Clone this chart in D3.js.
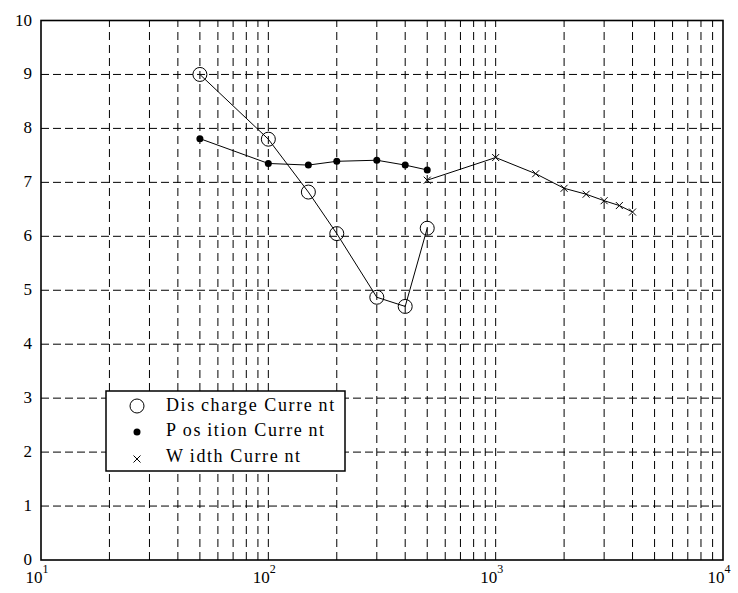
<!DOCTYPE html>
<html>
<head>
<meta charset="utf-8">
<script src="https://cdn.jsdelivr.net/npm/d3@7"></script>
<style>
  html, body { margin: 0; padding: 0; background: #fff; }
  svg { display: block; }
</style>
</head>
<body>
<svg id="chart" width="738" height="593" font-family="'Liberation Serif', 'Times New Roman', Times, serif"></svg>
<script>
// Discharge current series
const dischargeX = [50, 100, 150, 200, 300, 400, 500];
const dischargeY = [9.0, 7.8, 6.82, 6.05, 4.87, 4.7, 6.15];

// Position current series
const positionX = [50, 100, 150, 200, 300, 400, 500];
const positionY = [7.81, 7.35, 7.32, 7.39, 7.41, 7.32, 7.23];

// Width current series
const widthX = [500, 1000, 1500, 2000, 2500, 3000, 3500, 4000];
const widthY = [7.04, 7.46, 7.16, 6.89, 6.78, 6.66, 6.57, 6.45];

// Axis ticks
const xDecades = [1, 2, 3, 4];
const yTicks = [0, 1, 2, 3, 4, 5, 6, 7, 8, 9, 10];
const legendLabels = ["Dis\u2009charge Curre\u2009nt", "P\u2009os\u2009ition Curre\u2009nt", "W\u2009idth Curre\u2009nt"];

const svg = d3.select("#chart");
const plotL = 41, plotR = 723, plotT = 20.5, plotB = 560;

const x = d3.scaleLog().domain([10, 10000]).range([plotL, plotR]);
const y = d3.scaleLinear().domain([0, 10]).range([plotB, plotT]);

// minor + major vertical grid positions
const xGrid = [];
for (let d = 1; d < 4; d++) {
  for (let m = 1; m <= 9; m++) xGrid.push(m * Math.pow(10, d));
}

const grid = svg.append("g");
grid.selectAll("line.vx")
  .data(xGrid.filter(v => v > 10 && v < 10000))
  .join("line")
  .attr("x1", d => x(d)).attr("x2", d => x(d))
  .attr("y1", plotB).attr("y2", plotT)
  .attr("stroke", "#000").attr("stroke-width", 1)
  .attr("stroke-dasharray", "8,5");
grid.selectAll("line.hy")
  .data(yTicks.filter(v => v > 0 && v < 10))
  .join("line")
  .attr("x1", plotL).attr("x2", plotR)
  .attr("y1", d => y(d)).attr("y2", d => y(d))
  .attr("stroke", "#000").attr("stroke-width", 1)
  .attr("stroke-dasharray", "8,4");

// frame
svg.append("rect")
  .attr("x", plotL).attr("y", plotT)
  .attr("width", plotR - plotL).attr("height", plotB - plotT)
  .attr("fill", "none").attr("stroke", "#000").attr("stroke-width", 1.6);

// y tick labels
svg.append("g").selectAll("text")
  .data(yTicks)
  .join("text")
  .attr("x", 32).attr("y", d => y(d) + 5)
  .attr("text-anchor", "end")
  .attr("font-size", 17)
  .text(d => d);

// x tick labels with superscript exponent
const xl = svg.append("g").selectAll("text")
  .data(xDecades)
  .join("text")
  .attr("x", d => x(Math.pow(10, d)) - 4)
  .attr("y", 583)
  .attr("text-anchor", "middle")
  .attr("font-size", 17);
xl.append("tspan").text("10");
xl.append("tspan").attr("dy", -10).attr("font-size", 12).text(d => d);

// series
const line = d3.line().x(d => x(d[0])).y(d => y(d[1]));
const discharge = d3.zip(dischargeX, dischargeY);
const position = d3.zip(positionX, positionY);
const widthS = d3.zip(widthX, widthY);

[discharge, position, widthS].forEach(s => {
  svg.append("path").datum(s).attr("d", line)
    .attr("fill", "none").attr("stroke", "#000").attr("stroke-width", 1);
});

svg.append("g").selectAll("circle")
  .data(discharge).join("circle")
  .attr("cx", d => x(d[0])).attr("cy", d => y(d[1])).attr("r", 7)
  .attr("fill", "none").attr("stroke", "#000").attr("stroke-width", 1);

svg.append("g").selectAll("circle")
  .data(position).join("circle")
  .attr("cx", d => x(d[0])).attr("cy", d => y(d[1])).attr("r", 3.5)
  .attr("fill", "#000");

const cross = (g, cx, cy, s) => {
  g.append("path")
    .attr("d", `M${cx - s},${cy - s}L${cx + s},${cy + s}M${cx - s},${cy + s}L${cx + s},${cy - s}`)
    .attr("stroke", "#000").attr("stroke-width", 1).attr("fill", "none");
};
const wg = svg.append("g");
widthS.forEach(d => cross(wg, x(d[0]), y(d[1]), 3.5));

// legend
const lg = svg.append("g");
lg.append("rect")
  .attr("x", 106).attr("y", 391).attr("width", 239).attr("height", 80)
  .attr("fill", "#fff").attr("stroke", "#000").attr("stroke-width", 1.5);
const ly = [406, 431, 457];
lg.append("circle").attr("cx", 137).attr("cy", ly[0]).attr("r", 7)
  .attr("fill", "none").attr("stroke", "#000");
lg.append("circle").attr("cx", 137).attr("cy", ly[1] + 1).attr("r", 3.5).attr("fill", "#000");
cross(lg, 137, ly[2] + 2, 3.5);
lg.selectAll("text").data(legendLabels).join("text")
  .attr("x", 166).attr("y", (d, i) => ly[i] + 5)
  .attr("font-size", 18)
  .attr("letter-spacing", 1.6)
  .text(d => d);
</script>
</body>
</html>
